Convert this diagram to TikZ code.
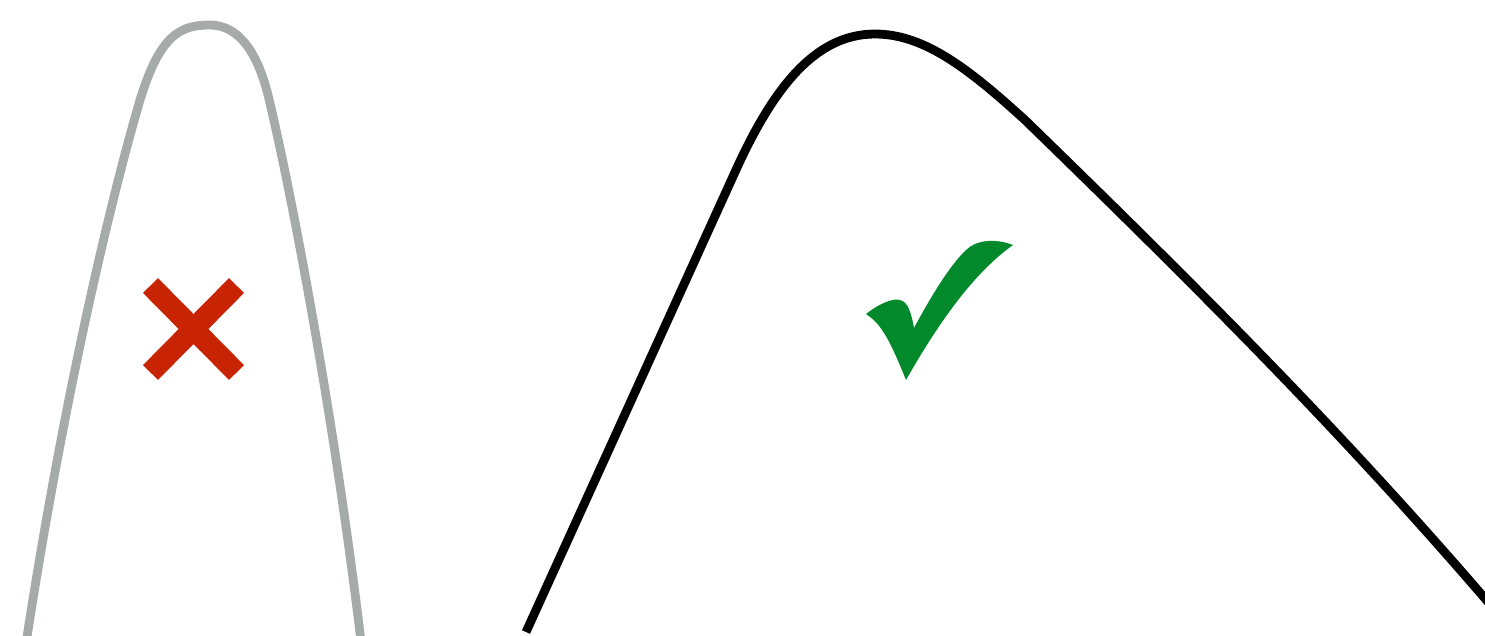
\documentclass[tikz,border=0pt]{standalone}
\definecolor{curvegray}{RGB}{166,170,168}
\definecolor{crossred}{RGB}{200,36,4}
\definecolor{checkgreen}{RGB}{2,137,44}
\tikzset{
  curveline/.style={line width=2.5pt},
  crossbar/.style={crossred, line width=6pt},
}
\begin{document}
\begin{tikzpicture}[x=0.01cm,y=-0.01cm]
\useasboundingbox (0,0) rectangle (1485,635);
\begin{scope}
\clip (0,0) rectangle (1485,635);
% gray narrow curve
\draw[curveline, curvegray] (25,650) .. controls (60,420) and (105,220) .. (140,100)
  .. controls (160,35) and (180,25) .. (210,25)
  .. controls (240,25) and (258,55) .. (268,95)
  .. controls (290,185) and (335,420) .. (362,650);
% black wide curve
\draw[curveline, black] (526,632) -- (735,172)
  .. controls (773,88) and (815,34) .. (875,34)
  .. controls (925,34) and (970,70) .. (1025,120)
  .. controls (1200,290) and (1350,440) .. (1500,616);
\end{scope}
% red cross
\draw[crossbar] (150.5,285.5) -- (236.5,372.5);
\draw[crossbar] (236.5,285.5) -- (150.5,372.5);
% green check
\fill[checkgreen] (866,314) .. controls (880,303) and (893,298) .. (900,300)
  .. controls (908,302) and (911,312) .. (914,328)
  .. controls (930,298) and (950,265) .. (966,250)
  .. controls (976,240) and (995,238) .. (1013,245)
  .. controls (975,272) and (940,320) .. (906,380)
  .. controls (898,360) and (890,342) .. (884,333)
  .. controls (878,323) and (872,318) .. (866,314) -- cycle;
\end{tikzpicture}
\end{document}
